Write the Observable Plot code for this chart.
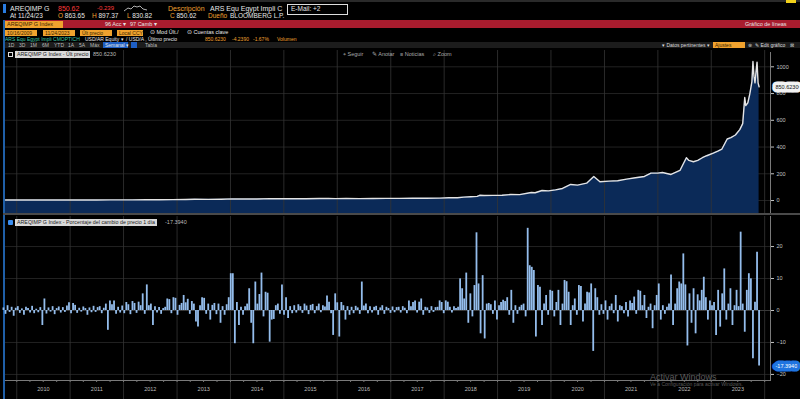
<!DOCTYPE html>
<html><head><meta charset="utf-8">
<script src="https://cdn.jsdelivr.net/npm/d3@7"></script>
<script src="https://cdn.jsdelivr.net/npm/@observablehq/plot@0.6"></script>
<style>
html,body{margin:0;padding:0;background:#000;width:800px;height:399px;overflow:hidden;font-family:"Liberation Sans",Arial,sans-serif;}
#root{position:relative;width:800px;height:399px;background:#000;overflow:hidden;}
.t{position:absolute;white-space:nowrap;font-size:6.5px;line-height:1;color:#e6e6e6;}
.b{position:absolute;}
.amb{position:absolute;background:#f0a22e;color:#3a2500;font-size:5.5px;line-height:7px;white-space:nowrap;padding-left:2px;box-sizing:border-box;overflow:hidden;}
.svgwrap{position:absolute;left:0;}
</style></head>
<body><div id="root">
  <!-- header -->
  <div class="b" style="left:0;top:0;width:800px;height:2px;background:#2a2a2a"></div>
  <div class="b" style="left:786px;top:0;width:10px;height:3px;background:#f2d21b"></div>
  <div class="b" style="left:3px;top:4px;width:3px;height:9px;background:#2a7de1"></div>
  <div class="t" style="left:10px;top:5px;font-size:7px">AREQIMP G</div>
  <div class="t" style="left:58px;top:5px;font-size:7px;color:#ff3b3b">850.62</div>
  <div class="t" style="left:97px;top:5px;font-size:6px;color:#ff3b3b">-0.239</div>
  <svg class="b" style="left:123px;top:3px" width="25" height="10"><polyline points="1,8 5,5 8,6 11,3 14,4 17,3 20,6 24,7" fill="none" stroke="#ddd" stroke-width="0.8"/></svg>
  <div class="t" style="left:168px;top:5px;font-size:7px;color:#f0a030">Descripción</div>
  <div class="t" style="left:210px;top:5px;font-size:7px">ARS Equ Egypt Impli C</div>
  <div class="b" style="left:287px;top:4px;width:61px;height:11px;border:1px solid #ddd;box-sizing:border-box"></div>
  <div class="t" style="left:291px;top:6px;font-size:6.5px">E-Mail: +2</div>
  <div class="t" style="left:10px;top:13px;font-size:6.5px">At 11/24/23</div>
  <div class="t" style="left:58px;top:13px;font-size:6.5px"><span style="color:#f0a030">O</span> 863.65</div>
  <div class="t" style="left:92px;top:13px;font-size:6.5px"><span style="color:#f0a030">H</span> 897.37</div>
  <div class="t" style="left:127px;top:13px;font-size:6.5px"><span style="color:#f0a030">L</span> 830.82</div>
  <div class="t" style="left:170px;top:13px;font-size:6.5px"><span style="color:#f0a030">C</span> 850.62</div>
  <div class="t" style="left:208px;top:13px;font-size:6.5px;color:#f0a030">Dueño</div>
  <div class="t" style="left:230px;top:13px;font-size:6.5px">BLOOMBERG L.P.</div>

  <div class="b" style="left:3px;top:20px;width:797px;height:8px;background:#a81c2e"></div>
  <div class="amb" style="left:5px;top:21px;width:58px;height:7px;font-size:5.5px;line-height:7px">AREQIMP G Index</div>
  <div class="t" style="left:105px;top:22px;font-size:5.5px">96 Acc ▾</div>
  <div class="t" style="left:130px;top:22px;font-size:5.5px">97 Camb ▾</div>
  <div class="t" style="left:745px;top:22px;font-size:5.5px">Gráfico de líneas</div>

  <div class="amb" style="left:5px;top:30px;width:32px;height:6px;line-height:6px;font-size:5px">10/16/2009</div>
  <div class="amb" style="left:43px;top:30px;width:32px;height:6px;line-height:6px;font-size:5px">11/24/2023</div>
  <div class="amb" style="left:80px;top:30px;width:32px;height:6px;line-height:6px;font-size:5px">Últ precio</div>
  <div class="amb" style="left:117px;top:30px;width:26px;height:6px;line-height:6px;font-size:5px">Local CCY</div>
  <div class="t" style="left:150px;top:30px;font-size:5.5px">⊙ Mod Últ./</div>
  <div class="t" style="left:187px;top:30px;font-size:5.5px">⊙ Cuentas clave</div>

  <div class="t" style="left:5px;top:37px;font-size:5px;color:#3cc7a8">ARS Equ Egypt Impli CMOPTICH</div>
  <div class="t" style="left:85px;top:37px;font-size:5px">USD/AR Equity ▾</div>
  <div class="t" style="left:126px;top:37px;font-size:5px">/ USD/A , Último precio</div>
  <div class="t" style="left:205px;top:37px;font-size:5px;color:#f0a030">850.6230</div>
  <div class="t" style="left:232px;top:37px;font-size:5px;color:#f0a030">-4.2390</div>
  <div class="t" style="left:253px;top:37px;font-size:5px;color:#f0a030">-1.67%</div>
  <div class="t" style="left:277px;top:37px;font-size:5px;color:#f0a030">Volumen</div>

  <div class="b" style="left:3px;top:42px;width:797px;height:6px;background:#1c1c1c"></div>
  <div class="t" style="left:8px;top:43px;font-size:5px;color:#bbb">1D</div>
  <div class="t" style="left:19px;top:43px;font-size:5px;color:#bbb">3D</div>
  <div class="t" style="left:30px;top:43px;font-size:5px;color:#bbb">1M</div>
  <div class="t" style="left:42px;top:43px;font-size:5px;color:#bbb">6M</div>
  <div class="t" style="left:54px;top:43px;font-size:5px;color:#bbb">YTD</div>
  <div class="t" style="left:68px;top:43px;font-size:5px;color:#bbb">1A</div>
  <div class="t" style="left:79px;top:43px;font-size:5px;color:#bbb">5A</div>
  <div class="t" style="left:90px;top:43px;font-size:5px;color:#bbb">Máx</div>
  <div class="b" style="left:103px;top:42px;width:25px;height:6px;background:#1e5fc4"></div>
  <div class="t" style="left:105px;top:43px;font-size:5px">Semanal ▾</div>
  <div class="b" style="left:131px;top:42px;width:6px;height:6px;background:#1e5fc4"></div>
  <div class="t" style="left:145px;top:43px;font-size:5px;color:#bbb">Tabla</div>
  <div class="t" style="left:662px;top:43px;font-size:5px;color:#ddd">▾ Datos pertinentes ▾</div>
  <div class="amb" style="left:713px;top:42px;width:32px;height:6px;line-height:6px;font-size:5px">Ajustes</div>
  <div class="t" style="left:748px;top:43px;font-size:5px;color:#ccc">⊗</div>
  <div class="t" style="left:755px;top:43px;font-size:5px;color:#ddd">✎ Edit gráfico</div>
  <div class="t" style="left:790px;top:43px;font-size:5px;color:#ccc">⊠</div>

  <div class="b" style="left:3px;top:20px;width:1.5px;height:379px;background:#1f5fa8"></div>

  <div id="topwrap" class="svgwrap" style="top:50px"></div>
  <div class="b" style="left:3px;top:213px;width:797px;height:2px;background:#4a4a4a"></div>
  <div id="botwrap" class="svgwrap" style="top:215px"></div>

  <!-- legends -->
  <div class="b" style="left:8px;top:52px;width:5px;height:5px;border:1px solid #ddd;box-sizing:border-box;background:#000"></div>
  <div class="t" style="left:15px;top:51px;height:7px;line-height:7px;padding:0 2px;background:#d9d9d9;color:#222;font-size:5.3px">AREQIMP G Index - Últ precio</div>
  <div class="t" style="left:93px;top:52px;font-size:5.5px;color:#bbb">850.6230</div>
  <div class="t" style="left:343px;top:52px;font-size:5.5px;color:#aaa">⌖ Seguir</div>
  <div class="t" style="left:372px;top:52px;font-size:5.5px;color:#aaa">✎ Anotar</div>
  <div class="t" style="left:400px;top:52px;font-size:5.5px;color:#aaa">≡ Noticias</div>
  <div class="t" style="left:433px;top:52px;font-size:5.5px;color:#aaa">⌕ Zoom</div>

  <div class="b" style="left:8px;top:220px;width:5px;height:5px;background:#3b8ef0;border-radius:1px"></div>
  <div class="t" style="left:15px;top:219px;height:7px;line-height:7px;padding:0 2px;background:#d9d9d9;color:#222;font-size:5.3px">AREQIMP G Index - Porcentaje del cambio de precio 1 día</div>
  <div class="t" style="left:165px;top:220px;font-size:5.5px;color:#bbb">-17.3940</div>

  <div class="t" style="left:650px;top:373px;font-size:9px;color:rgba(200,200,200,0.45)">Activar Windows</div>
  <div class="t" style="left:650px;top:382px;font-size:5px;color:rgba(200,200,200,0.45)">Ve a Configuración para activar Windows.</div>
</div>
<script>
// ---- data ----
const priceDates = [
"2009-10-16","2010-01-01","2010-04-01","2010-07-01","2010-10-01","2011-01-01","2011-04-01","2011-07-01","2011-10-01","2011-12-01",
"2012-03-01","2012-06-01","2012-09-01","2012-12-01","2013-03-01","2013-05-01","2013-08-01","2013-11-01","2014-01-15","2014-04-01",
"2014-07-01","2014-10-01","2014-12-01","2015-03-01","2015-06-01","2015-09-01","2015-11-01","2015-12-20","2016-03-01","2016-06-01",
"2016-09-01","2016-12-01","2017-03-01","2017-06-01","2017-09-01","2017-12-01","2018-02-01","2018-04-01","2018-05-15","2018-07-01",
"2018-08-15","2018-09-01","2018-10-01","2018-12-01","2019-02-01","2019-04-01","2019-06-01","2019-08-20","2019-09-15","2019-11-01",
"2019-12-15","2020-02-01","2020-03-20","2020-05-15","2020-07-01","2020-09-01","2020-10-20","2020-12-01","2021-02-01","2021-04-01",
"2021-06-01","2021-08-01","2021-10-01","2021-11-15","2021-12-31","2022-02-01","2022-04-01","2022-06-01","2022-07-15","2022-08-01",
"2022-09-01","2022-10-01","2022-11-01","2022-12-01","2023-01-15","2023-02-15","2023-03-15","2023-04-20","2023-05-15","2023-06-15",
"2023-07-15","2023-08-04","2023-08-18","2023-08-25","2023-09-08","2023-09-22","2023-10-06","2023-10-13","2023-10-20","2023-10-27",
"2023-11-03","2023-11-10","2023-11-17","2023-11-24"];
const priceValues = [
3.9,4.0,4.0,4.0,4.05,4.1,4.2,4.3,4.6,4.8,
5.0,5.9,6.2,6.9,8.0,9.8,9.0,10.0,12.5,11.0,
11.8,14.5,12.8,12.8,13.5,15.0,15.5,14.2,15.5,14.2,
15.5,16.0,15.8,16.8,17.5,17.8,20.5,20.8,25.5,28.5,
31,39,38,38.5,39,45,44.5,60,58,75,
72,80,90,120,115,130,180,140,145,148,
160,170,180,205,205,210,195,225,320,300,
290,300,320,335,355,370,385,460,470,490,
530,575,770,710,730,800,890,1040,930,880,
960,1035,880,850.62];

// weekly % change, one reading every two weeks, ending at changeEnd
const changeEnd = "2023-11-24";
const changeValues = [
0.8,-1.2,1.5,-0.6,1.0,-1.8,0.7,1.2,-0.9,0.5,
-1.5,1.0,0.6,-0.8,1.3,-1.0,0.4,-0.7,0.9,-4.7,
3.6,-1.1,0.8,-0.5,1.2,-1.3,0.6,1.1,-0.8,0.9,
-0.6,1.4,2.4,-1.0,2.2,1.6,-0.9,0.7,-0.5,1.1,
0.6,-1.5,0.8,-0.7,1.3,-0.6,0.9,1.2,-1.0,0.7,
2.0,-6.2,3.0,1.8,3.0,-1.2,1.0,-0.8,1.4,-1.0,
2.5,1.8,-1.3,2.8,2.2,-0.9,2.6,1.5,5.2,-1.2,
8.0,1.5,2.0,-4.7,1.2,-0.8,0.9,-1.2,0.6,1.0,
3.6,3.4,-1.0,4.0,3.8,-1.5,1.6,2.2,4.7,2.4,
3.5,-1.2,2.8,2.0,-3.6,-5.2,1.5,4.0,3.8,-1.2,
2.0,-3.0,1.6,2.2,-1.3,2.0,-4.0,1.2,-1.5,1.8,
4.0,11.5,11.5,-10.4,2.5,-4.7,1.0,-1.5,1.2,2.0,
6.8,-4.0,-10.4,8.9,2.0,5.0,11.7,-2.0,5.7,5.4,
-9.9,-3.0,-2.8,1.5,2.0,-1.2,8.0,-1.5,4.0,-2.5,
1.2,-1.0,1.5,-0.8,1.8,1.2,-0.9,2.0,1.4,-1.3,
1.6,1.9,-1.0,1.2,2.0,-0.7,1.5,1.1,4.5,2.6,
-1.0,-7.8,5.2,2.4,-8.3,2.5,1.5,-3.0,1.2,-1.5,
1.0,-1.0,1.3,0.8,-1.2,8.9,1.4,2.0,-1.0,1.2,
-0.8,1.0,1.3,-1.5,0.8,1.5,-1.2,1.0,0.6,-0.9,
1.1,-0.7,0.9,1.0,-0.8,1.2,0.7,-1.0,3.0,1.2,
2.5,3.0,-0.8,2.6,3.6,-1.5,1.0,0.8,-0.9,1.2,
-0.6,0.9,1.0,3.0,2.5,-1.0,3.0,2.6,1.0,-0.8,
1.2,0.6,1.0,9.9,6.8,3.6,11.7,-4.0,5.2,-2.0,
7.8,24.3,8.3,-7.3,10.9,-8.9,2.0,2.2,1.8,-1.2,
3.0,-3.0,1.5,2.5,3.2,2.8,4.0,-1.5,6.3,-4.0,
1.5,-1.2,1.0,1.6,2.0,-2.0,25.7,14.0,13.5,12.5,
-8.3,7.8,7.3,-4.7,2.0,4.7,-1.5,6.3,6.0,-2.0,
2.5,6.3,-4.7,2.0,9.4,9.0,5.7,-4.7,1.5,3.6,
-1.5,7.8,7.5,-3.6,2.0,5.7,5.5,8.3,-12.8,6.8,
4.0,-1.5,1.8,-1.2,3.0,-3.0,1.2,2.0,-1.0,4.7,
-3.6,1.5,1.2,-1.0,2.5,-2.0,3.0,2.2,4.2,-1.2,
6.3,6.0,1.5,4.7,-2.5,1.0,2.0,-5.7,1.5,4.7,
8.3,-3.0,1.5,-1.2,1.0,2.0,11.1,-4.7,2.0,6.8,
8.9,8.3,17.7,8.0,-11.1,5.2,-4.0,6.8,-7.3,4.9,
3.0,6.3,10.4,4.0,-3.0,3.0,1.5,2.5,-7.8,6.3,
-5.2,5.2,13.0,-3.0,2.0,6.8,-4.7,1.5,6.3,1.2,
24.5,2.0,-6.8,6.3,11.5,9.9,-15.1,2.6,18.2,-17.394];

const yearLabels = [2010,2011,2012,2013,2014,2015,2016,2017,2018,2019,2020,2021,2022,2023];
const priceTicks = [0,200,400,600,800,1000];
const changeTicks = [-20,-10,0,10,20];
const lastPrice = 850.623;
const lastChange = -17.394;

// ---- derived ----
const price = priceDates.map((d,i)=>({date:new Date(d), value:priceValues[i]}));
const endDate = new Date(changeEnd);
const nC = changeValues.length;
const changes = changeValues.map((v,i)=>({date:d3.utcWeek.offset(endDate, -2*(nC-1-i)), value:v}));
const xDomain = [new Date("2009-10-16"), new Date("2024-02-10")];
const yearStarts = d3.range(2010, 2025).map(y=>new Date(Date.UTC(y,0,1)));
const quarterTicks = d3.utcMonth.every(3).range(xDomain[0], xDomain[1]);
const yearMids = yearLabels.map(y=>new Date(Date.UTC(y,6,2)));
const priceDomain = [-97, 1107];
const changeDomain = [-21.9, 29.4];
const FONT = "Liberation Sans, Arial, sans-serif";
const gridCol = "#343434";
const intFmt = d3.format("d");

const topChart = Plot.plot({
  width:800, height:165, marginLeft:5, marginRight:30, marginTop:2, marginBottom:2,
  style:{background:"transparent", color:"#bdbdbd", fontFamily:FONT, fontSize:"6px"},
  x:{type:"utc", domain:xDomain, axis:null, label:null},
  y:{domain:priceDomain, axis:null, label:null},
  marks:[
    Plot.gridY(priceTicks, {stroke:"#222", strokeOpacity:1}),
    Plot.areaY(price, {x:"date", y1:priceDomain[0], y2:"value", fill:"#0b2a58", curve:"linear"}),
    Plot.gridX(yearStarts, {stroke:gridCol, strokeOpacity:0.8, insetTop:-2}),
    Plot.lineY(price, {x:"date", y:"value", stroke:"#e4e4e4", strokeWidth:1.4}),
    Plot.frame({anchor:"right", stroke:"#7a7a7a"}),
    Plot.axisY(priceTicks, {anchor:"right", label:null, tickSize:3, tickPadding:3, tickFormat:intFmt, fontSize:5.5, color:"#c4c4c4"}),
    Plot.text([lastPrice], {y:d=>d, frameAnchor:"right", textAnchor:"start", dx:5, text:d=>d.toFixed(4),
      fill:"#111", stroke:"#f2f2f2", strokeWidth:7, strokeLinejoin:"round", fontSize:5.5})
  ]
});
document.getElementById("topwrap").append(topChart);

const botChart = Plot.plot({
  width:800, height:185, marginLeft:5, marginRight:30, marginTop:1, marginBottom:20,
  style:{background:"transparent", color:"#bdbdbd", fontFamily:FONT, fontSize:"6px"},
  x:{type:"utc", domain:xDomain, axis:null, label:null},
  y:{domain:changeDomain, axis:null, label:null},
  marks:[
    Plot.gridY(changeTicks, {stroke:"#222", strokeOpacity:1}),
    Plot.gridX(yearStarts, {stroke:gridCol, strokeOpacity:0.8, insetBottom:-19}),
    Plot.ruleY([0], {stroke:"#3a3a3a"}),
    Plot.ruleX(changes, {x:"date", y1:0, y2:"value", stroke:"#94bdec", strokeWidth:1.8}),
    Plot.frame({anchor:"right", stroke:"#7a7a7a"}),
    Plot.frame({anchor:"bottom", stroke:"#7a7a7a"}),
    Plot.axisY(changeTicks, {anchor:"right", label:null, tickSize:3, tickPadding:3, tickFormat:intFmt, fontSize:5.5, color:"#c4c4c4"}),
    Plot.axisX(quarterTicks, {anchor:"bottom", label:null, tickSize:2, tickFormat:()=>"", color:"#777"}),
    Plot.axisX(yearMids, {anchor:"bottom", label:null, tickSize:0, tickPadding:7, tickFormat:d3.utcFormat("%Y"), fontSize:5.5, color:"#bdbdbd"}),
    Plot.text([lastChange], {y:d=>d, frameAnchor:"right", textAnchor:"start", dx:5, text:d=>d.toFixed(4),
      fill:"#fff", stroke:"#1f74e0", strokeWidth:7, strokeLinejoin:"round", fontSize:5.5})
  ]
});
document.getElementById("botwrap").append(botChart);
</script>
</body></html>
